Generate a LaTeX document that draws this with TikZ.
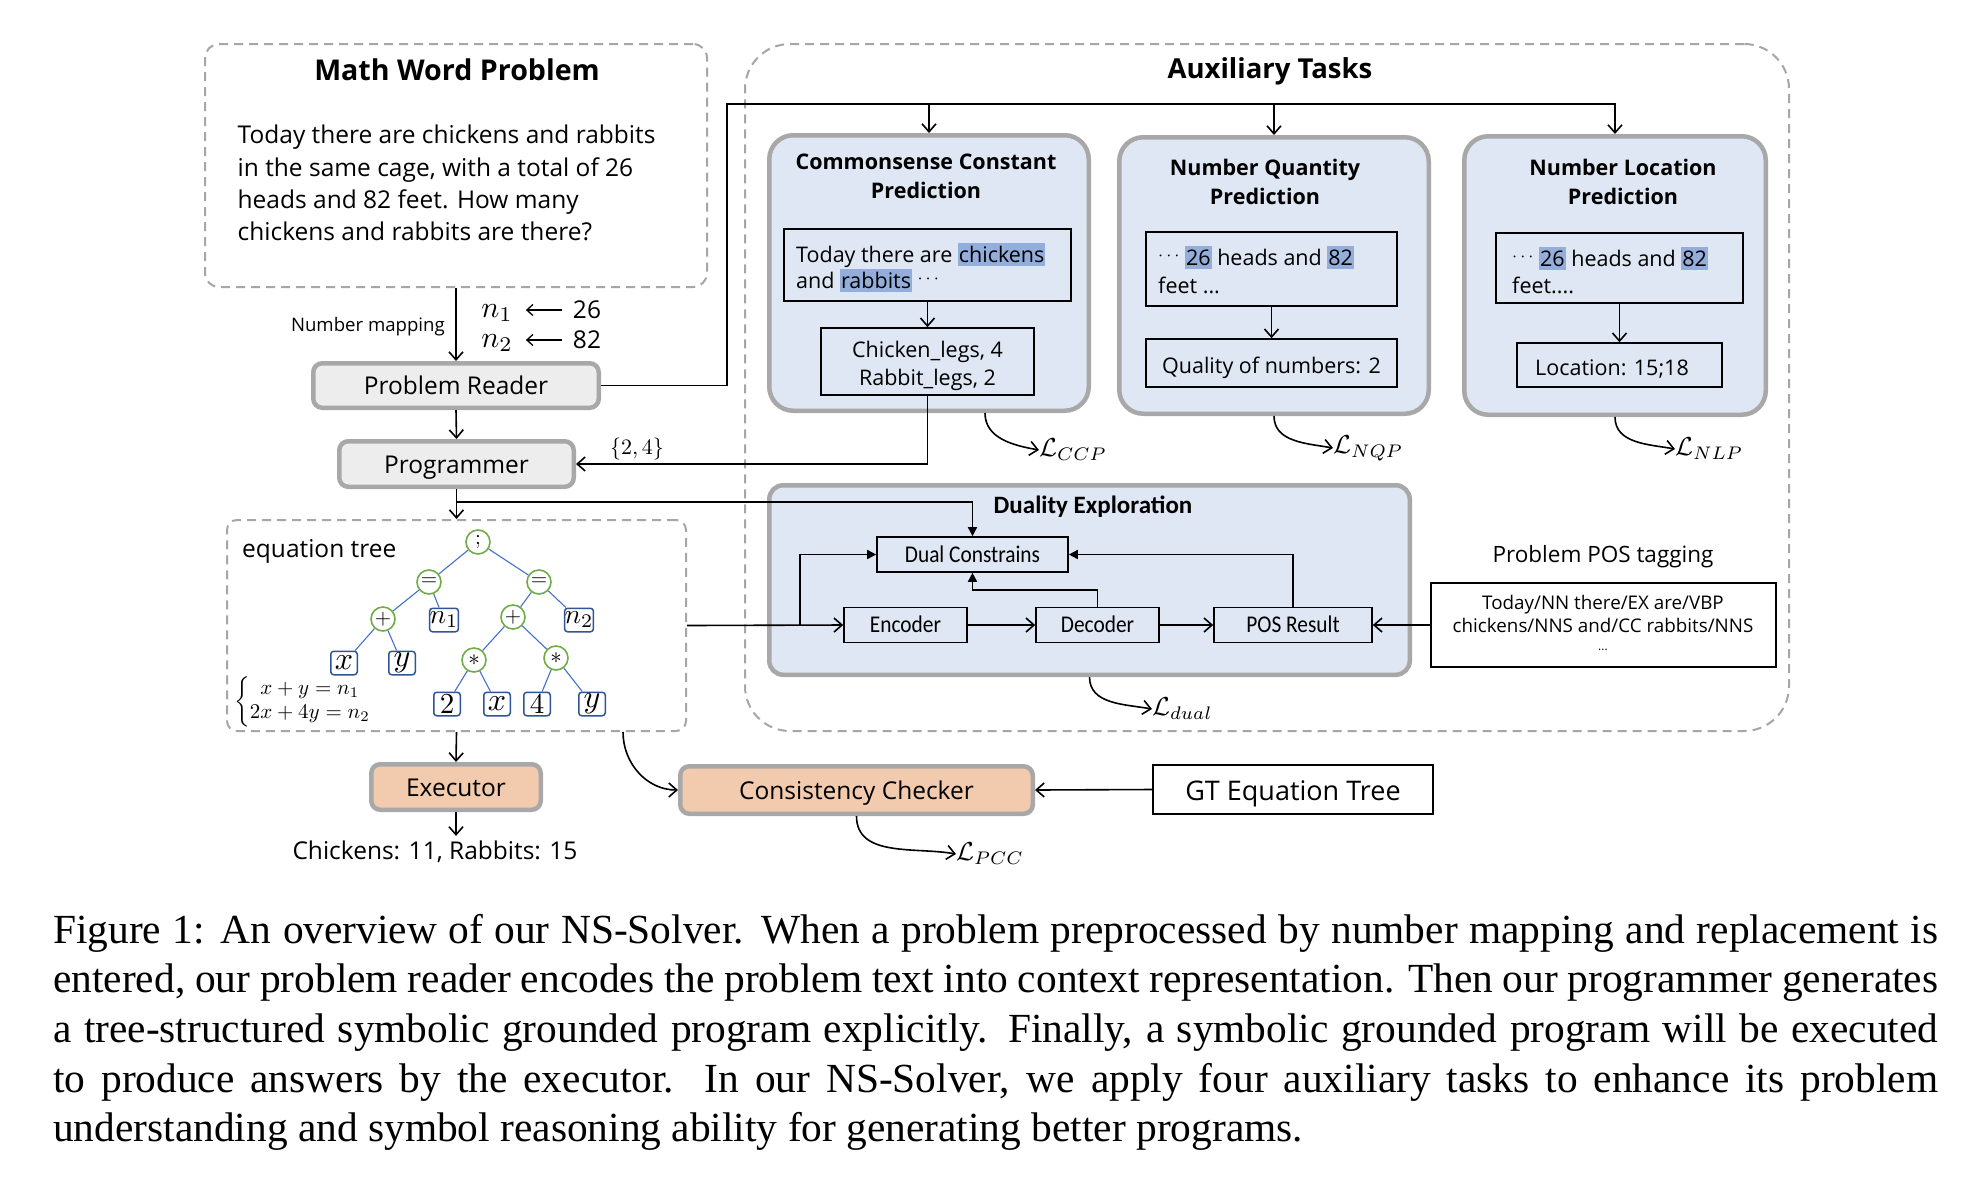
\RequirePackage{fix-cm}
\documentclass[tikz,border=0pt]{standalone}
\usepackage[no-math]{fontspec}
\setmainfont{Liberation Serif}
\newfontfamily\osans{Open Sans}
\newfontfamily\cali{Carlito}
\newfontfamily\calin[FakeStretch=0.89]{Carlito}
\usetikzlibrary{arrows.meta}
\definecolor{dashgray}{HTML}{A6A6A6}
\definecolor{bordergray}{HTML}{A8A8A8}
\definecolor{boxgray}{HTML}{EDEDED}
\definecolor{bluefill}{HTML}{DEE7F3}
\definecolor{hlblue}{HTML}{94AEDC}
\definecolor{peach}{HTML}{F2CBAE}
\definecolor{treegreen}{HTML}{70AD47}
\definecolor{treeblue}{HTML}{2F5597}
\definecolor{edgeblue}{HTML}{4472C4}
\newcommand\setfs[2]{\fontsize{#1}{#2}\selectfont}
\newcommand\msc[2]{\scalebox{#1}{$#2$}}
\newcommand\hlw[1]{{\setlength{\fboxsep}{0pt}\colorbox{hlblue}{\kern1pt\rule[-4pt]{0pt}{23pt}#1\kern1pt}}}
\newcommand\cdt{\raisebox{5pt}{\scalebox{0.85}{$\cdots$}}}
\begin{document}
\begin{tikzpicture}[x=1pt,y=-1pt,
  sz/.style 2 args={minimum width=#1pt, minimum height=#2pt},
  dashbox/.style={draw=dashgray, line width=2pt, dash pattern=on 9pt off 6pt, rounded corners=#1, inner sep=0pt},
  graybox/.style={draw=bordergray, line width=4.5pt, fill=#1, rounded corners=9pt, inner sep=0pt, text height=18pt, text depth=-3pt, font={\osans\setfs{24.5}{29}}},
  taskbox/.style={draw=bordergray, line width=4.5pt, fill=bluefill, rounded corners=24pt, inner sep=0pt},
  thinbox/.style={draw=black, line width=1.6pt, inner sep=0pt},
  arr/.style={line width=1.6pt, -{Straight Barb[length=8pt,width=14pt]}},
  smallarr/.style={line width=1.3pt, -{Straight Barb[length=6pt,width=11pt]}},
  arrF/.style={line width=1.6pt, -{Triangle[length=9pt,width=9pt]}},
  opnode/.style={circle, draw=treegreen, line width=1.6pt, fill=white, minimum size=24pt, inner sep=0pt},
  leaf/.style={draw=treeblue, line width=1.5pt, rounded corners=3pt, fill=white, minimum width=26.5pt, minimum height=23.5pt, inner sep=0pt},
  tedge/.style={draw=edgeblue, line width=1.1pt},
  txt/.style={inner sep=0pt, font={\osans\setfs{24.5}{29}}},
  smalltxt/.style={inner sep=0pt, font={\osans\setfs{21.5}{27}}},
  ttl/.style={inner sep=0pt, font={\osans\bfseries\setfs{21.5}{27}}},
  bigttl/.style={inner sep=0pt, font={\osans\bfseries\setfs{27.5}{33}}},
  dutxt/.style={inner sep=0pt, text height=15.5pt, text depth=0pt, font={\calin\setfs{24}{28}}},
  mathlbl/.style={inner sep=0pt},
  capt/.style={inner sep=0pt, anchor=base west, font={\rmfamily\setfs{41.4}{49.7}}}
]
\fill[white] (0,0) rectangle (1964,1176);
\useasboundingbox (0,0) rectangle (1964,1176);

% containers
\node[dashbox=14pt, sz={502}{243}] (mwp) at (456,165.5) {};
\node[dashbox=45pt, sz={1044}{687}] (aux) at (1267,387.5) {};
\node[dashbox=10pt, sz={459}{211}] (eqt) at (456.5,625.5) {};

% math word problem
\node[bigttl, font={\osans\bfseries\setfs{28.6}{33}}, anchor=base] (mwpt) at (457,80) {Math Word Problem};
\node[txt, anchor=base west] (mw1) at (237.5,143) {Today there are chickens and rabbits};
\node[txt, anchor=base west] (mw2) at (237.5,176) {in the same cage, with a total of 26};
\node[txt, anchor=base west] (mw3) at (237.5,208) {heads and 82 feet. How many};
\node[txt, anchor=base west] (mw4) at (237.5,240) {chickens and rabbits are there?};

\node[inner sep=0pt, font={\osans\setfs{18.6}{22}}, anchor=base east] (nm) at (445,331) {Number mapping};
\node[inner sep=0pt] (n1) at (497,313) {\msc{3.0}{n_1}};
\node[inner sep=0pt] (n2) at (497,343) {\msc{3.0}{n_2}};
\node[txt] (v26) at (587,310) {26};
\node[txt] (v82) at (587,340) {82};
\draw[smallarr, shorten <=11pt, shorten >=13pt] (v26.west) -- (n1.east |- v26.west);
\draw[smallarr, shorten <=11pt, shorten >=13pt] (v82.west) -- (n2.east |- v82.west);

\node[graybox=boxgray, sz={285.5}{44.5}] (pr) at (456,385.5) {Problem Reader};
\node[graybox=boxgray, sz={234.5}{45.5}] (prog) at (456.5,464) {Programmer};
\node[inner sep=0pt] (set24) at (637,449) {\msc{2.2}{\{2,4\}}};

% auxiliary tasks
\node[bigttl, anchor=base] (auxt) at (1270,78) {Auxiliary Tasks};
\node[taskbox, sz={319.5}{275.5}] (ccp) at (929,273) {};
\node[taskbox, sz={309.5}{276.5}] (nqp) at (1274,275.5) {};
\node[taskbox, sz={301.5}{278.5}] (nlp) at (1615,275.5) {};

\node[ttl, anchor=base] (ccpt1) at (926,169) {Commonsense Constant};
\node[ttl, anchor=base] (ccpt2) at (926,198) {Prediction};
\node[ttl, anchor=base] (nqpt1) at (1265,175) {Number Quantity};
\node[ttl, anchor=base] (nqpt2) at (1265,204) {Prediction};
\node[ttl, anchor=base] (nlpt1) at (1623,175) {Number Location};
\node[ttl, anchor=base] (nlpt2) at (1623,204) {Prediction};

\node[thinbox, sz={287}{72}] (ccp1) at (927.5,265) {};
\node[smalltxt, anchor=base west] (ccp1a) at (796,262) {Today there are \hlw{chickens}};
\node[smalltxt, anchor=base west] (ccp1b) at (796,288) {and \hlw{rabbits} \cdt};
\node[thinbox, sz={213}{67}] (ccp2) at (927.5,361.5) {};
\node[smalltxt, anchor=base] (ccp2a) at (927.5,357) {Chicken\_legs, 4};
\node[smalltxt, anchor=base] (ccp2b) at (927.5,385) {Rabbit\_legs, 2};

\node[thinbox, sz={251}{74}] (nqp1) at (1271.5,269) {};
\node[smalltxt, anchor=base west] (nqp1a) at (1158,265) {\cdt\ \hlw{26} heads and \hlw{82}};
\node[smalltxt, anchor=base west] (nqp1b) at (1158,293) {feet ...};
\node[thinbox, sz={251}{48}, smalltxt, text height=20pt, text depth=0pt] (nqp2) at (1271.5,363) {Quality of numbers: 2};

\node[thinbox, sz={247}{70}] (nlp1) at (1619.5,268) {};
\node[smalltxt, anchor=base west] (nlp1a) at (1512,266) {\cdt\ \hlw{26} heads and \hlw{82}};
\node[smalltxt, anchor=base west] (nlp1b) at (1512,293) {feet....};
\node[thinbox, sz={205}{44}] (nlp2) at (1619.5,365) {};
\node[smalltxt, anchor=base] (nlp2t) at (1612,375) {Location: 15;18};

% losses
\node[mathlbl, anchor=west] (lccp) at (1039,450) {\msc{2.6}{\mathcal{L}_{CCP}}};
\node[mathlbl, anchor=west] (lnqp) at (1333,448) {\msc{2.6}{\mathcal{L}_{NQP}}};
\node[mathlbl, anchor=west] (lnlp) at (1675,449) {\msc{2.6}{\mathcal{L}_{NLP}}};

% duality
\node[taskbox, rounded corners=14pt, sz={640.5}{189.5}] (dual) at (1089.5,580) {};
\node[inner sep=0pt, font={\cali\bfseries\setfs{25}{30}}, anchor=base] (dualt) at (1093,513) {Duality Exploration};
\node[thinbox, sz={191}{35}, dutxt] (dc) at (972.5,554.5) {Dual Constrains};
\node[thinbox, sz={123}{35}, dutxt] (enc) at (905.5,625) {Encoder};
\node[thinbox, sz={123}{35}, dutxt] (dec) at (1097.5,625) {Decoder};
\node[thinbox, sz={158}{35}, dutxt] (pos) at (1293,625) {POS Result};
\node[mathlbl, anchor=west] (ldual) at (1152,709) {\msc{2.6}{\mathcal{L}_{dual}}};

\node[inner sep=0pt, font={\osans\setfs{22.5}{27}}] (post) at (1603,557) {Problem POS tagging};
\node[thinbox, sz={345}{84}] (postag) at (1603.5,625) {};
\node[inner sep=0pt, font={\osans\setfs{18.8}{19}}, anchor=base] (pt1) at (1603,609) {Today/NN there/EX are/VBP};
\node[inner sep=0pt, font={\osans\setfs{18.8}{19}}, anchor=base] (pt2) at (1603,632) {chickens/NNS and/CC rabbits/NNS};
\node[inner sep=0pt, font={\osans\setfs{12}{12}}, anchor=base] (pt3) at (1603,650) {...};

% equation tree
\node[txt, anchor=base west] (eqtl) at (242,557) {equation tree};
\node[opnode] (r) at (478,542) {\msc{2.1}{;}};
\node[opnode] (eL) at (429,582) {\msc{2.1}{=}};
\node[opnode] (eR) at (539,582) {\msc{2.1}{=}};
\node[opnode] (pL) at (383,619) {\msc{2.1}{+}};
\node[leaf] (ln1) at (444,620) {\msc{2.75}{n_1}};
\node[opnode] (pR) at (513,617) {\msc{2.1}{+}};
\node[leaf] (ln2) at (579,620) {\msc{2.75}{n_2}};
\node[leaf] (lx1) at (344,663) {\msc{3.2}{x}};
\node[leaf] (ly1) at (402,663) {\msc{3.2}{y}};
\node[opnode] (mL) at (474,660) {\msc{2.3}{*}};
\node[opnode] (mR) at (556,658) {\msc{2.3}{*}};
\node[leaf] (l2) at (447,704) {\msc{2.9}{2}};
\node[leaf] (lx2) at (497,704) {\msc{3.2}{x}};
\node[leaf] (l4) at (537,704) {\msc{2.9}{4}};
\node[leaf] (ly2) at (592,704) {\msc{3.2}{y}};
\draw[tedge] (r) -- (eL);
\draw[tedge] (r) -- (eR);
\draw[tedge] (eL) -- (pL);
\draw[tedge] (eL) -- (ln1);
\draw[tedge] (eR) -- (pR);
\draw[tedge] (eR) -- (ln2);
\draw[tedge] (pL) -- (lx1);
\draw[tedge] (pL) -- (ly1);
\draw[tedge] (pR) -- (mL);
\draw[tedge] (pR) -- (mR);
\draw[tedge] (mL) -- (l2);
\draw[tedge] (mL) -- (lx2);
\draw[tedge] (mR) -- (l4);
\draw[tedge] (mR) -- (ly2);
\node[inner sep=0pt, anchor=west] (eqs) at (234,702) {\msc{2.1}{\renewcommand{\arraystretch}{0.95}\left\{\begin{array}{@{}c@{}}x+y=n_1\\2x+4y=n_2\end{array}\right.}};

% bottom row
\node[graybox=peach, sz={169.5}{45.5}] (exe) at (456,787) {Executor};
\node[txt] (res) at (435,852) {Chickens: 11, Rabbits: 15};
\node[graybox=peach, sz={352.5}{47.5}] (cc) at (856.5,790) {Consistency Checker};
\node[thinbox, sz={280}{49}, text height=21pt, text depth=0pt, font={\osans\setfs{27}{32}}] (gt) at (1293,789.5) {GT Equation Tree};
\node[mathlbl, anchor=west] (lpcc) at (956,854) {\msc{2.6}{\mathcal{L}_{PCC}}};

% connectors
\draw[arr] (mwp.south) -- (pr.north);
\draw[arr] (pr.south) -- (prog.north);
\coordinate (busL) at (727,104);
\draw[arr] (pr.east) -| (busL) -| (nlp.north);
\draw[arr] (ccp.north |- busL) -- (ccp.north);
\draw[arr] (nqp.north |- busL) -- (nqp.north);
\draw[arr] (ccp1.south) -- (ccp2.north);
\draw[arr] (nqp1.south) -- (nqp2.north);
\draw[arr] (nlp1.south) -- (nlp2.north);
\draw[arr] (ccp2.south) |- (prog.east);
\draw[arr] (prog.south) -- (eqt.north);
\coordinate (j1) at (456.5,502);
\draw[arrF] (j1) -| (dc.north);
\draw[arr] (eqt.east) -- (enc.west);
\coordinate (j2) at (800,625);
\draw[arrF] (j2) |- (dc.west);
\draw[arr] (enc.east) -- (dec.west);
\draw[arr] (dec.east) -- (pos.west);
\coordinate (j3) at (972.5,590);
\draw[arrF] (dec.north) |- (j3) -- (dc.south);
\draw[arrF] (pos.north) |- (dc.east);
\draw[arr] (postag.west) -- (pos.east);
\draw[arr] (eqt.south) -- (exe.north);
\draw[arr, shorten >=5pt] (exe.south) -- (exe.south |- res.north);
\coordinate (eqout) at (623,732);
\draw[arr] (eqout) to[out=-90,in=180] (cc.west);
\draw[arr] (gt.west) -- (cc.east);
\draw[arr] ([xshift=56pt]ccp.south) to[out=-90,in=170] (lccp.west);
\draw[arr] (nqp.south) to[out=-90,in=170] (lnqp.west);
\draw[arr] (nlp.south) to[out=-90,in=170] (lnlp.west);
\draw[arr] (dual.south) to[out=-90,in=170] (ldual.west);
\draw[arr] (cc.south) to[out=-90,in=170] (lpcc.west);

% caption
\node[capt] (c1) at (53,943) {\makebox[1885pt][s]{Figure 1: An overview of our NS-Solver. When a problem preprocessed by number mapping and replacement is}};
\node[capt] (c2) at (53,992.7) {\makebox[1885pt][s]{entered, our problem reader encodes the problem text into context representation. Then our programmer generates}};
\node[capt] (c3) at (53,1042.4) {\makebox[1885pt][s]{a tree-structured symbolic grounded program explicitly. Finally, a symbolic grounded program will be executed}};
\node[capt] (c4) at (53,1092.1) {\makebox[1885pt][s]{to produce answers by the executor. In our NS-Solver, we apply four auxiliary tasks to enhance its problem}};
\node[capt] (c5) at (53,1141.8) {understanding and symbol reasoning ability for generating better programs.};
\end{tikzpicture}
\end{document}
